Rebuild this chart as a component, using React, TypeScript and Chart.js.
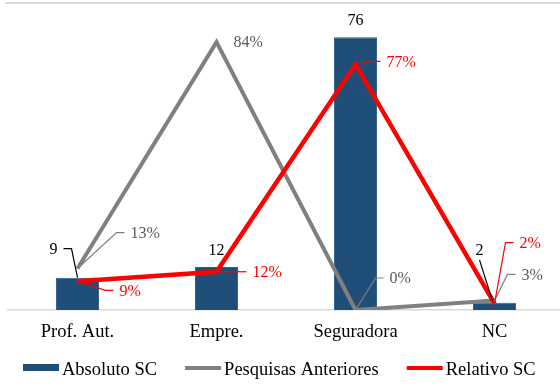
import React, { useEffect, useRef } from 'react';
import { Chart, registerables } from 'chart.js';

Chart.register(...registerables);

// Categories and series values
const categories = ['Prof. Aut.', 'Empre.', 'Seguradora', 'NC'];
const absolutoSC = [9, 12, 76, 2];
const pesquisasAnteriores = [13, 84, 0, 3]; // percent
const relativoSC = [9, 12, 77, 2]; // percent
const seriesNames = ['Absoluto SC', 'Pesquisas Anteriores', 'Relativo SC'];

const FONT = "'Liberation Serif', 'Times New Roman', serif";
const BLUE = '#1F4E79';
const GRAY = '#808080';
const RED = '#FF0000';

type LabelPlacement = {
  dx: number;
  dy: number;
  align: 'left' | 'right' | 'center';
  leader?: 'side' | 'below';
};

// Where each data label sits relative to its mark
const barLabelPlacement: LabelPlacement[] = [
  { dx: -20, dy: -28, align: 'right', leader: 'side' },
  { dx: 0, dy: -16, align: 'center' },
  { dx: 0, dy: -17, align: 'center' },
  { dx: -15, dy: -52, align: 'center', leader: 'below' },
];
const grayLabelPlacement: LabelPlacement[] = [
  { dx: 53, dy: -35, align: 'left', leader: 'side' },
  { dx: 17, dy: 1, align: 'left' },
  { dx: 34, dy: -31, align: 'left', leader: 'side' },
  { dx: 27, dy: -25, align: 'left', leader: 'side' },
];
const redLabelPlacement: LabelPlacement[] = [
  { dx: 42, dy: 10, align: 'left', leader: 'side' },
  { dx: 36, dy: 1, align: 'left', leader: 'side' },
  { dx: 31, dy: -2, align: 'left', leader: 'side' },
  { dx: 25, dy: -60, align: 'left', leader: 'side' },
];

const dataLabelsPlugin = {
  id: 'leaderLabels',
  afterDatasetsDraw(chart: any) {
    const ctx: CanvasRenderingContext2D = chart.ctx;
    const groups = [
      { idx: 2, values: absolutoSC, place: barLabelPlacement, text: '#000000', line: '#000000', suffix: '' },
      { idx: 1, values: pesquisasAnteriores, place: grayLabelPlacement, text: '#595959', line: '#808080', suffix: '%' },
      { idx: 0, values: relativoSC, place: redLabelPlacement, text: RED, line: RED, suffix: '%' },
    ];
    ctx.save();
    ctx.font = `16px ${FONT}`;
    ctx.textBaseline = 'middle';
    for (const g of groups) {
      const meta = chart.getDatasetMeta(g.idx);
      meta.data.forEach((el: any, i: number) => {
        const p = g.place[i];
        const px = el.x;
        const py = el.y;
        const lx = px + p.dx;
        const ly = py + p.dy;
        const label = `${g.values[i]}${g.suffix}`;
        ctx.strokeStyle = g.line;
        ctx.lineWidth = 1.2;
        if (p.leader === 'side') {
          const dir = p.align === 'right' ? 1 : -1;
          const hx1 = lx + dir * 6;
          const hx2 = lx + dir * 14;
          ctx.beginPath();
          ctx.moveTo(hx1, ly - 1);
          ctx.lineTo(hx2, ly - 1);
          ctx.lineTo(px, py);
          ctx.stroke();
        } else if (p.leader === 'below') {
          ctx.beginPath();
          ctx.moveTo(lx, ly + 9);
          ctx.lineTo(px - 2, py - 2);
          ctx.stroke();
        }
        ctx.fillStyle = g.text;
        ctx.textAlign = p.align;
        ctx.fillText(label, lx, ly);
      });
    }
    ctx.restore();
  },
};

const legendPlugin = {
  id: 'bottomLegend',
  afterDraw(chart: any) {
    const ctx: CanvasRenderingContext2D = chart.ctx;
    const colors = [BLUE, GRAY, RED];
    const yMid = 368;
    let x = 23;
    ctx.save();
    ctx.font = `18.5px ${FONT}`;
    ctx.textBaseline = 'alphabetic';
    ctx.textAlign = 'left';
    seriesNames.forEach((name, i) => {
      if (i === 0) {
        ctx.fillStyle = colors[i];
        ctx.fillRect(x, yMid - 4, 36, 7);
      } else {
        ctx.strokeStyle = colors[i];
        ctx.lineWidth = 4;
        ctx.beginPath();
        ctx.moveTo(x, yMid);
        ctx.lineTo(x + 36, yMid);
        ctx.stroke();
      }
      x += 39;
      ctx.fillStyle = '#000000';
      ctx.fillText(name, x, 375);
      x += ctx.measureText(name).width + 28;
    });
    ctx.restore();
  },
};

export default function App() {
  const canvasRef = useRef<HTMLCanvasElement | null>(null);

  useEffect(() => {
    if (!canvasRef.current) return;
    const chart = new Chart(canvasRef.current, {
      type: 'bar',
      data: {
        labels: categories,
        datasets: [
          {
            type: 'line',
            label: seriesNames[2],
            data: relativoSC,
            yAxisID: 'yPct',
            borderColor: RED,
            backgroundColor: RED,
            borderWidth: 4.5,
            borderJoinStyle: 'miter',
            pointRadius: 0,
            tension: 0,
          },
          {
            type: 'line',
            label: seriesNames[1],
            data: pesquisasAnteriores,
            yAxisID: 'yPct',
            borderColor: GRAY,
            backgroundColor: GRAY,
            borderWidth: 4,
            borderJoinStyle: 'miter',
            pointRadius: 0,
            tension: 0,
          },
          {
            type: 'bar',
            label: seriesNames[0],
            data: absolutoSC,
            yAxisID: 'y',
            backgroundColor: BLUE,
            borderColor: '#2E5F8C',
            borderWidth: 1,
            barPercentage: 0.31,
            categoryPercentage: 1,
          },
        ] as any,
      },
      options: {
        animation: false,
        responsive: true,
        maintainAspectRatio: false,
        layout: { padding: { top: 23, left: 8, right: 0, bottom: 40 } },
        plugins: {
          legend: { display: false },
          tooltip: { enabled: false },
          title: { display: false },
        },
        scales: {
          x: {
            grid: { display: false, drawTicks: false },
            border: { display: true, color: '#D9D9D9', width: 1.5 },
            ticks: {
              color: '#000000',
              font: { family: FONT, size: 18.5 },
              padding: 11,
              maxRotation: 0,
            },
            afterFit: (s: any) => {
              s.height = 40;
            },
          },
          y: {
            display: false,
            min: 0,
            max: 80,
          },
          yPct: {
            display: false,
            position: 'right',
            min: 0,
            max: 90,
          },
        },
      },
      plugins: [dataLabelsPlugin, legendPlugin],
    });
    return () => chart.destroy();
  }, []);

  return (
    <div
      style={{
        position: 'fixed',
        left: 0,
        top: 0,
        width: 560,
        height: 390,
        overflow: 'hidden',
        background: '#ffffff',
      }}
    >
      <div
        style={{
          position: 'absolute',
          left: 5,
          top: 2,
          width: 555,
          height: 2,
          background: '#D9D9D9',
        }}
      />
      <div style={{ position: 'absolute', left: 0, top: 0, width: 564, height: 390 }}>
        <canvas ref={canvasRef} />
      </div>
    </div>
  );
}
